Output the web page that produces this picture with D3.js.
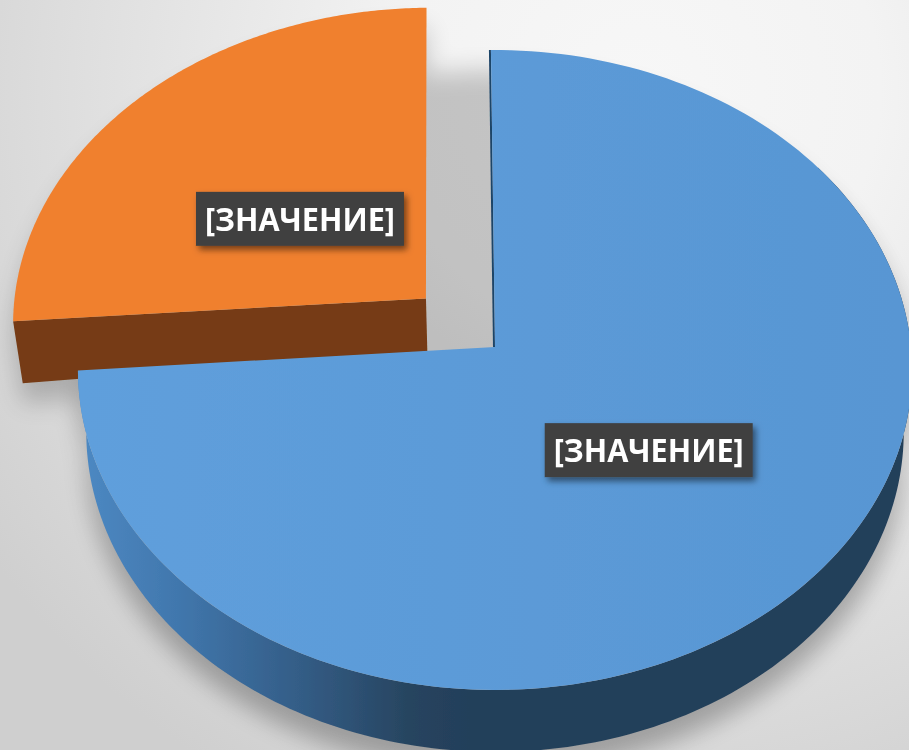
<!DOCTYPE html>
<html><head><meta charset="utf-8">
<script src="https://cdn.jsdelivr.net/npm/d3@7"></script>
<style>html,body{margin:0;padding:0;overflow:hidden;background:#eee}svg{display:block}</style>
</head><body><svg id="c" width="909" height="750"></svg>
<script>
const categories = ["Кв. 1", "Кв. 2"];
const values = [74, 26];
const labels = ["[ЗНАЧЕНИЕ]", "[ЗНАЧЕНИЕ]"];
const explode = [0, 0.228];
const colors = ["#5b9bd6", "#f0802f"];

const W = 909, H = 750;
const x0 = 495, y0 = 347, A = 318.3, B = 416, k = 0.0719, shrink = 0.98;
const svg = d3.select("#c");
const defs = svg.append("defs");

// page background
const bg = defs.append("radialGradient").attr("id","bg").attr("gradientUnits","userSpaceOnUse")
  .attr("cx",640).attr("cy",90).attr("r",800);
bg.append("stop").attr("offset",0).attr("stop-color","#f7f7f7");
bg.append("stop").attr("offset",0.3).attr("stop-color","#f3f3f3");
bg.append("stop").attr("offset",0.75).attr("stop-color","#dcdcdc");
bg.append("stop").attr("offset",1).attr("stop-color","#cfcfcf");

const sideGrad = defs.append("linearGradient").attr("id","sideBlue").attr("gradientUnits","userSpaceOnUse")
  .attr("x1",80).attr("x2",470).attr("y1",0).attr("y2",0);
[[0,"#4d89c3"],[0.25,"#4177ad"],[0.55,"#345e88"],[0.85,"#27445f"],[1,"#233f5a"]]
  .forEach(s=>sideGrad.append("stop").attr("offset",s[0]).attr("stop-color",s[1]));

const topGrad = defs.append("linearGradient").attr("id","topBlue").attr("gradientUnits","userSpaceOnUse")
  .attr("x1",80).attr("x2",900).attr("y1",0).attr("y2",0);
topGrad.append("stop").attr("offset",0).attr("stop-color","#5f9fdc");
topGrad.append("stop").attr("offset",1).attr("stop-color","#5896d3");

const blur = defs.append("filter").attr("id","shadow").attr("filterUnits","userSpaceOnUse")
  .attr("x",-100).attr("y",-100).attr("width",W+200).attr("height",H+200);
blur.append("feGaussianBlur").attr("stdDeviation",12);
const soft = defs.append("filter").attr("id","soft").attr("filterUnits","userSpaceOnUse")
  .attr("x",-20).attr("y",-20).attr("width",W+40).attr("height",H+40);
soft.append("feGaussianBlur").attr("stdDeviation",0.55);
const ls = defs.append("filter").attr("id","lblShadow").attr("x","-10%").attr("y","-20%").attr("width","125%").attr("height","150%");
ls.append("feDropShadow").attr("dx",3).attr("dy",4).attr("stdDeviation",3).attr("flood-color","#000").attr("flood-opacity",0.5);

const pie = d3.pie().sort(null).startAngle(-0.6*Math.PI/180).endAngle((360-0.6)*Math.PI/180);
const arcs = pie(values);

// disc coordinates -> screen with a simple perspective
function project(u, v) {
  const w = 1 - k * v;
  return [x0 + B * u / w, y0 + A * v / w];
}
function offsetOf(i, a) {
  const mid = (a.startAngle + a.endAngle) / 2;
  return [explode[i] * Math.sin(mid), -explode[i] * Math.cos(mid)];
}
function point(i, a, ang, r) {
  const o = offsetOf(i, a);
  return project(o[0] + r * Math.sin(ang), o[1] - r * Math.cos(ang));
}
function lower(p, r) {
  return [x0 + (p[0] - x0) * shrink, p[1] + 53 + 9 * r];
}
const line = d3.line().curve(d3.curveLinear);
const angles = (s, e) => d3.range(0, 181).map(j => s + (e - s) * j / 180);

function topPath(i, a) {
  const pts = angles(a.startAngle, a.endAngle).map(t => point(i, a, t, 1));
  pts.push(point(i, a, 0, 0));
  return line(pts) + "Z";
}
function rimPath(i, a, s, e) {
  const up = angles(s, e).map(t => point(i, a, t, 1));
  const dn = up.map(p => lower(p, 1)).reverse();
  return line(up.concat(dn)) + "Z";
}
function cutPath(i, a, ang) {
  const c = point(i, a, 0, 0), r = point(i, a, ang, 1);
  return line([c, r, lower(r, 1), lower(c, 0)]) + "Z";
}

svg.append("rect").attr("width",W).attr("height",H).attr("fill","url(#bg)");

const root = svg.append("g").attr("filter","url(#soft)");

// soft shadows on the wall, including the place the pulled slice left
const sh = root.append("g").attr("filter","url(#shadow)").attr("opacity",0.2).attr("transform","translate(0,20)");
const full = angles(0, 2 * Math.PI);
sh.append("path").attr("d", line(full.map(t => point(0, arcs[0], t, 1))) + "Z");
sh.append("path").attr("d", rimPath(0, arcs[0], Math.PI * 0.3, Math.PI * 1.6));
sh.append("path").attr("d", topPath(1, arcs[1]));
sh.append("path").attr("d", cutPath(1, arcs[1], arcs[1].startAngle));
// a little extra darkness beneath the thick rim
root.append("path").attr("d", rimPath(0, arcs[0], Math.PI * 0.3, Math.PI * 1.6))
  .attr("filter","url(#shadow)").attr("opacity",0.09).attr("transform","translate(0,18)");

// pulled-out slice
root.append("path").attr("d", cutPath(1, arcs[1], arcs[1].startAngle)).attr("fill","#763b13");
root.append("path").attr("d", topPath(1, arcs[1])).attr("fill", colors[1]);

// main slice
root.append("path").attr("d", rimPath(0, arcs[0], Math.PI * 0.3, arcs[0].endAngle)).attr("fill","url(#sideBlue)");
root.append("path").attr("d", line([point(0,arcs[0],arcs[0].startAngle,1), point(0,arcs[0],0,0)]))
  .attr("transform","translate(-1,0)").attr("stroke","#1f4468").attr("stroke-width",2).attr("fill","none");
root.append("path").attr("d", topPath(0, arcs[0])).attr("fill","url(#topBlue)");

// data labels
const labelR = [0.49, 0.36];
const labelShift = [[0,-5],[-20,-5]];
const lw = 208, lh = 54;
arcs.forEach((a, i) => {
  const mid = (a.startAngle + a.endAngle) / 2;
  const p = point(i, a, mid, labelR[i]);
  const cx = p[0] + labelShift[i][0], cy = p[1] + labelShift[i][1];
  const g = root.append("g").attr("transform", `translate(${cx},${cy})`);
  g.append("rect").attr("x",-lw/2).attr("y",-lh/2).attr("width",lw).attr("height",lh)
    .attr("fill","#404040").attr("filter","url(#lblShadow)");
  g.append("text").attr("text-anchor","middle").attr("y",12)
    .attr("font-family","'Open Sans','Noto Sans',sans-serif").attr("font-weight",700)
    .attr("font-size",33).attr("fill","#ffffff").attr("textLength",190).attr("lengthAdjust","spacingAndGlyphs")
    .text(labels[i]);
});
</script></body></html>
